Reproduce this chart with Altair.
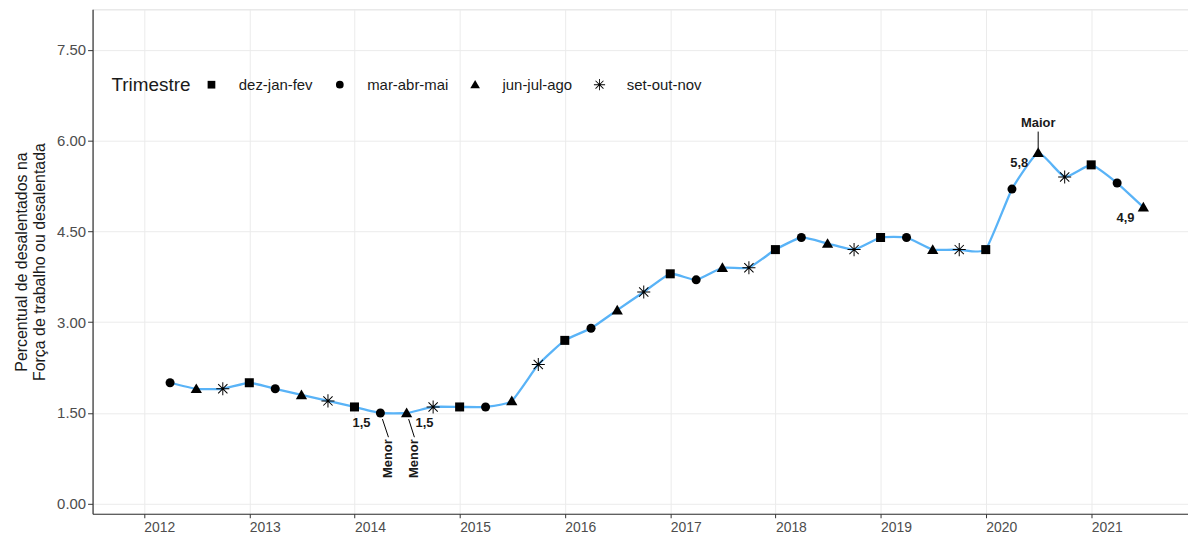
import math
import altair as alt
import pandas as pd

# ---- data -------------------------------------------------------------
trimestre_order = ["dez-jan-fev", "mar-abr-mai", "jun-jul-ago", "set-out-nov"]

dates = [
    "2012-04-01", "2012-07-01", "2012-10-01", "2013-01-01",
    "2013-04-01", "2013-07-01", "2013-10-01", "2014-01-01",
    "2014-04-01", "2014-07-01", "2014-10-01", "2015-01-01",
    "2015-04-01", "2015-07-01", "2015-10-01", "2016-01-01",
    "2016-04-01", "2016-07-01", "2016-10-01", "2017-01-01",
    "2017-04-01", "2017-07-01", "2017-10-01", "2018-01-01",
    "2018-04-01", "2018-07-01", "2018-10-01", "2019-01-01",
    "2019-04-01", "2019-07-01", "2019-10-01", "2020-01-01",
    "2020-04-01", "2020-07-01", "2020-10-01", "2021-01-01",
    "2021-04-01", "2021-07-01",
]
trimestres = [
    "mar-abr-mai", "jun-jul-ago", "set-out-nov", "dez-jan-fev",
] * 9 + ["mar-abr-mai", "jun-jul-ago"]
values = [
    2.0, 1.9, 1.9, 2.0,
    1.9, 1.8, 1.7, 1.6,
    1.5, 1.5, 1.6, 1.6,
    1.6, 1.7, 2.3, 2.7,
    2.9, 3.2, 3.5, 3.8,
    3.7, 3.9, 3.9, 4.2,
    4.4, 4.3, 4.2, 4.4,
    4.4, 4.2, 4.2, 4.2,
    5.2, 5.8, 5.4, 5.6,
    5.3, 4.9,
]

# value labels (anchored on the points)
lab_names = ["min1", "min2", "max", "last"]
lab_dates = ["2014-04-01", "2014-07-01", "2020-07-01", "2021-07-01"]
lab_values = [1.5, 1.5, 5.8, 4.9]
lab_texts = ["1,5", "1,5", "5,8", "4,9"]

# "Menor" callouts: from point to label
menor_from_dates = ["2014-04-08", "2014-07-08"]
menor_from_values = [1.40, 1.40]
menor_to_dates = ["2014-04-29", "2014-07-28"]
menor_to_values = [1.10, 1.10]
menor_texts = ["Menor", "Menor"]

# "Maior" callout
maior_date = ["2020-07-01"]
maior_from = [5.87]
maior_to = [6.15]
maior_text = ["Maior"]

FONT = "Liberation Sans"
df = pd.DataFrame({"date": [d + "T00:00:00" for d in dates],
                   "trimestre": trimestres, "valor": values})
df_lab = pd.DataFrame({"name": lab_names,
                       "date": [d + "T00:00:00" for d in lab_dates],
                       "valor": lab_values, "text": lab_texts})
df_menor = pd.DataFrame({
    "d1": [d + "T00:00:00" for d in menor_from_dates], "v1": menor_from_values,
    "d2": [d + "T00:00:00" for d in menor_to_dates], "v2": menor_to_values,
    "text": menor_texts})
df_maior = pd.DataFrame({"date": [d + "T00:00:00" for d in maior_date],
                         "v1": maior_from, "v2": maior_to, "text": maior_text})


# asterisk symbol (R pch 8) drawn as four thin filled bars
def _asterisk(half_len=1.45, half_w=0.11):
    parts = []
    for ang in (0, 45, 90, 135):
        a = math.radians(ang)
        c, s = math.cos(a), math.sin(a)
        px, py = -s, c
        pts = [(c * half_len + px * half_w, s * half_len + py * half_w),
               (c * half_len - px * half_w, s * half_len - py * half_w),
               (-c * half_len - px * half_w, -s * half_len - py * half_w),
               (-c * half_len + px * half_w, -s * half_len + py * half_w)]
        parts.append("M" + "L".join(f"{x:.3f},{y:.3f}" for x, y in pts) + "Z")
    return "".join(parts)


star = _asterisk()
triangle = "M0,-1.2L1.25,0.95L-1.25,0.95Z"

x_scale = alt.Scale(domain=[alt.DateTime(year=2011, month=7, date=7),
                            alt.DateTime(year=2021, month=12, date=3)])
y_scale = alt.Scale(domain=[-0.165, 8.17], nice=False, zero=False)

x_axis = alt.Axis(values=[alt.DateTime(year=y, month=1, date=1)
                          for y in range(2012, 2022)],
                  format="%Y", title=None, labelFontSize=14,
                  labelAlign="left", labelColor="#4D4D4D", labelFont=FONT,
                  tickColor="#333333", tickSize=4, domainColor="#333333",
                  domainWidth=1.2, gridColor="#EBEBEB", labelPadding=3)
y_axis = alt.Axis(values=[0, 1.5, 3, 4.5, 6, 7.5], format=".2f",
                  title=["Percentual de desalentados na",
                         "Força de trabalho ou desalentada"],
                  titleFontSize=16, titleFontWeight="normal", titleFont=FONT,
                  titleColor="#1a1a1a", labelFontSize=15, labelFont=FONT,
                  labelColor="#4D4D4D", tickColor="#333333", tickSize=5,
                  domainColor="#333333", domainWidth=1.2,
                  gridColor="#EBEBEB", titlePadding=9)

base = alt.Chart(df)

line = base.mark_line(color="#59B3F7", strokeWidth=2.3,
                      interpolate="cardinal", tension=0.55).encode(
    x=alt.X("date:T", scale=x_scale, axis=x_axis),
    y=alt.Y("valor:Q", scale=y_scale, axis=y_axis),
)

points = base.mark_point(filled=True, fill="black", size=82,
                         opacity=1).encode(
    x="date:T", y="valor:Q",
    shape=alt.Shape("trimestre:N",
                    scale=alt.Scale(domain=trimestre_order,
                                    range=["square", "circle",
                                           triangle, star]),
                    legend=alt.Legend(orient="none", legendX=19, legendY=68,
                                      direction="horizontal",
                                      titleOrient="left", title="Trimestre",
                                      titleFontSize=19,
                                      titleFontWeight="normal",
                                      titleFont=FONT, titleColor="#1a1a1a",
                                      titlePadding=13,
                                      labelFontSize=15, labelFont=FONT,
                                      labelColor="#1a1a1a",
                                      symbolSize=60, symbolFillColor="black",
                                      symbolStrokeWidth=0,
                                      labelOffset=20, columnPadding=19)),
)

lab_base = alt.Chart(df_lab)
text_style = dict(font=FONT, fontWeight="bold", fontSize=13, color="#1a1a1a")


def vlabel(name, dx, dy):
    return lab_base.transform_filter(alt.datum.name == name).mark_text(
        dx=dx, dy=dy, **text_style).encode(
        x="date:T", y="valor:Q", text="text:N")


labels = (vlabel("min1", -19, 10) + vlabel("min2", 18, 10)
          + vlabel("max", -19, 10) + vlabel("last", -18, 11))

menor_rule = alt.Chart(df_menor).mark_rule(color="black",
                                           strokeWidth=1).encode(
    x="d1:T", y="v1:Q", x2="d2:T", y2="v2:Q")
menor_text = alt.Chart(df_menor).mark_text(
    angle=270, align="right", baseline="middle", dx=-2,
    **text_style).encode(x="d2:T", y="v2:Q", text="text:N")

maior_rule = alt.Chart(df_maior).mark_rule(color="black",
                                           strokeWidth=1).encode(
    x="date:T", y="v1:Q", y2="v2:Q")
maior_text = alt.Chart(df_maior).mark_text(
    baseline="bottom", dy=-2, **text_style).encode(
    x="date:T", y="v2:Q", text="text:N")

chart = alt.layer(line, points, labels, menor_rule, menor_text,
                  maior_rule, maior_text).properties(
    width=1101, height=507,
    padding={"left": 5, "top": 0, "right": 0, "bottom": 0},
).configure_view(stroke=None).configure(background="white")

chart.save("out.html", embed_options={"renderer": "svg", "actions": False})
